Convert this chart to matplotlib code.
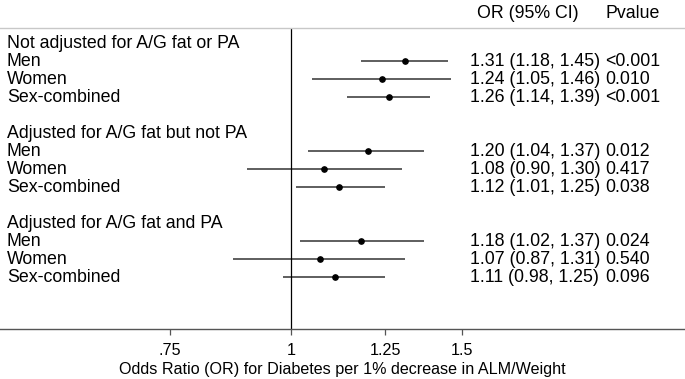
import matplotlib.pyplot as plt
import matplotlib.transforms as mtransforms
import numpy as np

plt.rcParams["font.family"] = ["Liberation Sans", "DejaVu Sans"]
plt.rcParams["font.size"] = 12.8

# ── data ─────────────────────────────────────────────────────────────────────
group_titles = [
    "Not adjusted for A/G fat or PA",
    "Adjusted for A/G fat but not PA",
    "Adjusted for A/G fat and PA",
]
subgroups = ["Men", "Women", "Sex-combined"]

odds_ratio = [1.31, 1.24, 1.26, 1.20, 1.08, 1.12, 1.18, 1.07, 1.11]
ci_low = [1.18, 1.05, 1.14, 1.04, 0.90, 1.01, 1.02, 0.87, 0.98]
ci_high = [1.45, 1.46, 1.39, 1.37, 1.30, 1.25, 1.37, 1.31, 1.25]
p_values = ["<0.001", "0.010", "<0.001", "0.012", "0.417", "0.038",
            "0.024", "0.540", "0.096"]

tick_values = [0.75, 1, 1.25, 1.5]
tick_labels = [".75", "1", "1.25", "1.5"]

# ── row layout: title row, three subgroup rows, one blank row per block ─────
title_rows = [0, 5, 10]
est_rows = [t + k + 1 for t in title_rows for k in range(3)]

fig = plt.figure(figsize=(6.85, 3.79), dpi=100)
ax = fig.add_axes([0.0, 0.1319, 1.0, 0.7942])

ax.set_xscale("log")
ax.set_xlim(0.5006, 2.547)
ax.set_ylim(15.89, -0.83)

# confidence intervals and point estimates
ax.hlines(est_rows, ci_low, ci_high, color="#333333", linewidth=1.1)
ax.plot(odds_ratio, est_rows, "o", color="black", markersize=3.8)

# null line at OR = 1
ax.axvline(1, color="black", linewidth=0.9)

# text columns (x in axes fraction, y in data rows, text sits on a baseline)
trans = mtransforms.blended_transform_factory(ax.transAxes, ax.transData)
x_label, x_or, x_p = 7 / 685, 470 / 685, 605.5 / 685
base = 0.26  # baseline offset below row centre, in rows

for title, row in zip(group_titles, title_rows):
    ax.text(x_label, row + base, title, transform=trans, va="baseline")
for i, row in enumerate(est_rows):
    ax.text(x_label, row + base, subgroups[i % 3], transform=trans,
            va="baseline")
    ax.text(x_or, row + base,
            f"{odds_ratio[i]:.2f} ({ci_low[i]:.2f}, {ci_high[i]:.2f})",
            transform=trans, va="baseline")
    ax.text(x_p, row + base, p_values[i], transform=trans, va="baseline")

ax.text(477 / 685, -1.67 + base, "OR (95% CI)", transform=trans,
        va="baseline", clip_on=False)
ax.text(x_p, -1.67 + base, "Pvalue", transform=trans, va="baseline",
        clip_on=False)

# axis styling
ax.spines["left"].set_visible(False)
ax.spines["right"].set_visible(False)
ax.spines["top"].set_color("#c8c8c8")
ax.spines["top"].set_linewidth(1.0)
ax.spines["bottom"].set_color("#555555")
ax.spines["bottom"].set_linewidth(1.0)

ax.set_yticks([])
ax.xaxis.set_minor_locator(plt.NullLocator())
ax.set_xticks(tick_values)
ax.set_xticklabels(tick_labels)
ax.tick_params(axis="x", direction="out", length=4.3, width=0.9,
               color="#555555", pad=5.5, labelsize=11.6)
ax.set_xlabel("Odds Ratio (OR) for Diabetes per 1% decrease in ALM/Weight",
              fontsize=11.6, labelpad=3.5)

fig.savefig("out.png", dpi=100)
